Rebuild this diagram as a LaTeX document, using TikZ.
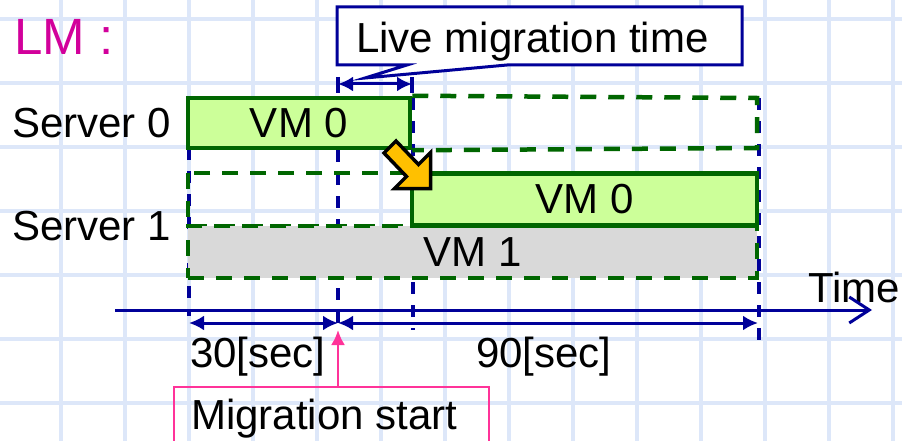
\documentclass[tikz,border=0pt]{standalone}
\usepackage{fontspec}
\setmainfont{Liberation Sans}
\usetikzlibrary{arrows.meta}

\definecolor{gridblue}{RGB}{221,231,249}
\definecolor{navy}{RGB}{0,0,153}
\definecolor{vmgreen}{RGB}{204,255,153}
\definecolor{edgegreen}{RGB}{0,102,0}
\definecolor{vmgray}{RGB}{217,217,217}
\definecolor{lmmagenta}{RGB}{210,0,155}
\definecolor{pinkline}{RGB}{255,51,153}
\definecolor{amber}{RGB}{255,192,0}

\begin{document}
\begin{tikzpicture}[x=1pt,y=-1pt,
  gridline/.style={draw=gridblue, line width=3.5pt},
  lbl/.style={inner sep=0pt, anchor=base west, font=\fontsize{42}{50}\selectfont},
  vmbox/.style={draw=edgegreen, line width=4.5pt, fill=vmgreen, inner sep=0pt,
    font=\fontsize{42}{50}\selectfont},
  slot/.style={draw=edgegreen, line width=4.5pt, dash pattern=on 16pt off 12pt},
  guide/.style={draw=navy, line width=3.5pt, dash pattern=on 12pt off 11pt},
  span/.style={draw=navy, line width=3pt,
    {Latex[length=15pt,width=15pt]}-{Latex[length=15pt,width=15pt]}},
  tick/.style={draw=navy, line width=3.5pt},
]
% canvas and squared paper
\fill[white] (0,0) rectangle (902,441);
\useasboundingbox (0,0) rectangle (902,441);
\foreach \gx in {61,125,...,893} \draw[gridline] (\gx,0) -- (\gx,441);
\foreach \gy in {19,83,...,403} \draw[gridline] (0,\gy) -- (902,\gy);

% title
\node[lbl, font=\fontsize{51}{60}\selectfont, text=lmmagenta] (title) at (14,55) {LM :};

% row labels
\node[lbl] (srv0) at (12,138) {Server 0};
\node[lbl] (srv1) at (12,240) {Server 1};

% time guides (drawn under the slots)
\coordinate (tStart) at (189,316);
\coordinate (tMig) at (338,330);
\coordinate (tSwitch) at (413,330);
\coordinate (tEnd) at (759,340);
\draw[guide] (189,148) -- (tStart);
\draw[guide] (338,150) -- (tMig);
\draw[guide] (413,98) -- (tSwitch);
\draw[guide] (759,98) -- (tEnd);

% server 0: VM 0 before migration, then free slot
\node[vmbox, minimum width=222pt, minimum height=50pt] (vm0old) at (299,123) {VM 0};
\draw[slot] (vm0old.north east) -- (757,98) -- (757,148) -- (vm0old.south east);

% server 1: free slot, VM 1 all along, VM 0 after migration
\draw[slot] (188,173) rectangle (412,226);
\node[vmbox, fill=vmgray, dash pattern=on 16pt off 12pt,
  minimum width=569pt, minimum height=52pt] (vm1) at (472.5,252) {VM 1};
\node[vmbox, minimum width=345pt, minimum height=52pt] (vm0new) at (584.5,199.5) {VM 0};

% time axis
\node[lbl] (timelbl) at (808,302) {Time};
\coordinate (axL) at (115,310);
\coordinate (axR) at (872,310);
\draw[navy, line width=3pt, -{Straight Barb[length=20pt,width=26pt]}] (axL) -- (axR);

% durations
\coordinate (dA) at (189,323);
\coordinate (dB) at (338,323);
\coordinate (dC) at (758,323);
\draw[span] (dA) -- (dB);
\draw[span] (dB) -- (dC);
\node[lbl] (d30) at (190,367) {30[sec]};
\node[lbl] (d90) at (476,367) {90[sec]};

% live migration time callout
\coordinate (lmA) at (338,84);
\coordinate (lmB) at (412,84);
\draw[tick] (338,77) -- (338,93);
\draw[tick] (412,77) -- (412,93);
\draw[span] (lmA) -- (lmB);
\draw[navy, line width=3pt, fill=white, line join=miter]
  (337,7) -- (742,7) -- (742,65) -- (507,65) -- (365,78) -- (407,65) -- (337,65) -- cycle;
\node[lbl] (lmtext) at (356,53) {Live migration time};

% migration start marker
\node[draw=pinkline, line width=2pt, anchor=north west, inner sep=0pt,
  minimum width=315pt, minimum height=70pt] (mbox) at (173,386) {};
\node[lbl] (mtext) at (191,429) {Migration start};
\draw[pinkline, line width=2.5pt, -{Latex[length=15pt,width=14pt]}]
  (tMig |- mbox.north) -- (tMig);

% VM 0 moves from server 0 to server 1
\draw[black, line width=3.5pt, fill=amber, line join=miter]
  (396,141) -- (418.5,164.5) -- (430.5,152.5) -- (430.5,188.5) -- (394.5,188.5)
  -- (406.5,176.5) -- (384,153) -- cycle;
\end{tikzpicture}
\end{document}
